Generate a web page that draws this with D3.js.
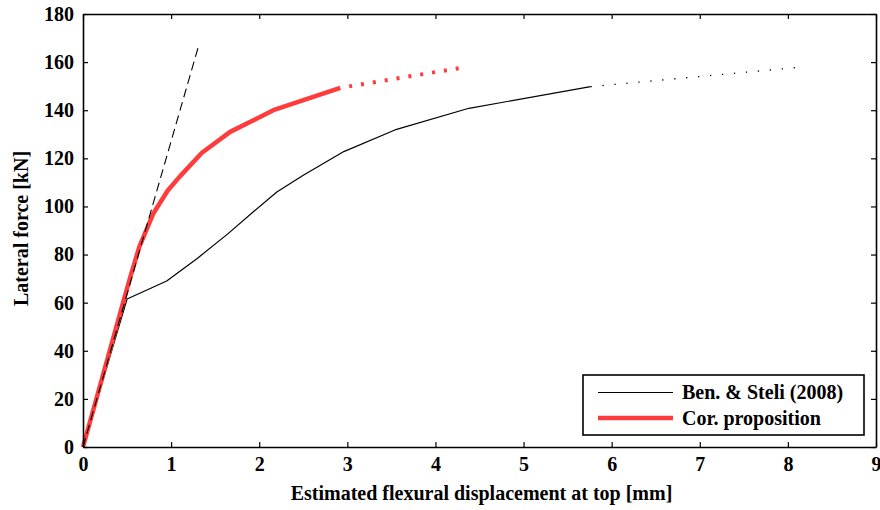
<!DOCTYPE html>
<html>
<head>
<meta charset="utf-8">
<script src="https://cdn.jsdelivr.net/npm/d3@7"></script>
<style>
  html, body { margin: 0; padding: 0; background: #fff; }
  svg { display: block; }
  text { font-family: "Liberation Serif", "Times New Roman", serif; fill: #000; font-weight: bold; }
</style>
</head>
<body>
<svg id="chart" width="880" height="510"></svg>
<script>
// Force–displacement curves (displacement in mm, force in kN)
const benStelliSolid = [[0,0],[0.5,61.5],[0.95,69],[1.3,78.5],[1.64,88.5],[1.94,98],[2.2,106],[2.5,113],[2.96,122.8],[3.54,131.8],[4.38,140.8],[5.76,149.8]];
const benStelliExtrap = [[5.76,149.8],[8.2,158.1]];
const proposalSolid = [[0,0],[0.47,62],[0.54,71],[0.64,83.3],[0.8,97.2],[0.96,106.5],[1.1,112.5],[1.35,122.3],[1.67,131],[2.16,140],[2.92,149.3]];
const proposalExtrap = [[2.92,149.3],[4.27,157.5]];
const initialStiffness = [[0,0],[1.32,167.8]];

const xTicks = [0,1,2,3,4,5,6,7,8,9];
const yTicks = [0,20,40,60,80,100,120,140,160,180];
const legendLabels = ["Ben. & Steli (2008)", "Cor. proposition"];

const svg = d3.select("#chart");
const m = {left: 83, right: 4, top: 14, bottom: 63};
const W = 880, H = 510;
const x = d3.scaleLinear().domain([0, 9]).range([m.left, W - m.right]);
const y = d3.scaleLinear().domain([0, 180]).range([H - m.bottom, m.top]);

const line = d3.line().x(d => x(d[0])).y(d => y(d[1]));
const RED = "#ff3b3b";

const plot = svg.append("g");
plot.append("path").datum(benStelliSolid).attr("d", line)
  .attr("fill", "none").attr("stroke", "#000").attr("stroke-width", 1.2)
  .attr("stroke-linejoin", "round");
plot.append("path").datum(benStelliExtrap).attr("d", line)
  .attr("fill", "none").attr("stroke", "#000").attr("stroke-width", 1.3)
  .attr("stroke-dasharray", "1.3,10.7");
plot.append("path").datum(proposalSolid).attr("d", line)
  .attr("fill", "none").attr("stroke", RED).attr("stroke-width", 4.5)
  .attr("stroke-linejoin", "round");
plot.append("path").datum(proposalExtrap).attr("d", line)
  .attr("fill", "none").attr("stroke", RED).attr("stroke-width", 4)
  .attr("stroke-dasharray", "3,9").attr("stroke-dashoffset", -9);
plot.append("path").datum(initialStiffness).attr("d", line)
  .attr("fill", "none").attr("stroke", "#000").attr("stroke-width", 1.1)
  .attr("stroke-dasharray", "9,5");

// Axes with inward ticks on all four sides
const tick = 5;
const axisStyle = g => {
  g.selectAll("path").attr("stroke", "#000").attr("stroke-width", 1.6);
  g.selectAll("line").attr("stroke", "#000").attr("stroke-width", 1.2);
  g.selectAll("text").style("font-family", '"Liberation Serif", serif')
    .style("font-size", "20px").style("font-weight", "bold").attr("fill", "#000");
};
svg.append("g").attr("transform", `translate(0,${y(0)})`)
  .call(d3.axisBottom(x).tickValues(xTicks).tickFormat(d3.format("d"))
    .tickSizeInner(-tick).tickSizeOuter(0).tickPadding(10))
  .call(axisStyle);
svg.append("g").attr("transform", `translate(0,${y(180)})`)
  .call(d3.axisTop(x).tickValues(xTicks).tickFormat("")
    .tickSizeInner(-tick).tickSizeOuter(0))
  .call(axisStyle);
svg.append("g").attr("transform", `translate(${x(0)},0)`)
  .call(d3.axisLeft(y).tickValues(yTicks).tickFormat(d3.format("d"))
    .tickSizeInner(-tick).tickSizeOuter(0).tickPadding(9))
  .call(axisStyle);
svg.append("g").attr("transform", `translate(${x(9)},0)`)
  .call(d3.axisRight(y).tickValues(yTicks).tickFormat("")
    .tickSizeInner(-tick).tickSizeOuter(0))
  .call(axisStyle);

// Axis titles
svg.append("text").attr("x", (x(0) + x(9)) / 2 + 2).attr("y", 500)
  .attr("text-anchor", "middle").style("font-size", "20px")
  .text("Estimated flexural displacement at top [mm]");
svg.append("text").attr("transform", `translate(28,${(y(0) + y(180)) / 2 - 2}) rotate(-90)`)
  .attr("text-anchor", "middle").style("font-size", "20px")
  .text("Lateral force [kN]");

// Legend
const lg = svg.append("g");
lg.append("rect").attr("x", 583).attr("y", 375).attr("width", 281).attr("height", 60)
  .attr("fill", "#fff").attr("stroke", "#000").attr("stroke-width", 1.6);
const legendStyles = [{stroke: "#000", w: 1.2}, {stroke: RED, w: 4.5}];
legendLabels.forEach((lab, i) => {
  const cy = 392.5 + i * 25.5;
  lg.append("line").attr("x1", 598).attr("x2", 673).attr("y1", cy).attr("y2", cy)
    .attr("stroke", legendStyles[i].stroke).attr("stroke-width", legendStyles[i].w);
  lg.append("text").attr("x", 682).attr("y", cy + 6.5).style("font-size", "20px").text(lab);
});
</script>
</body>
</html>
